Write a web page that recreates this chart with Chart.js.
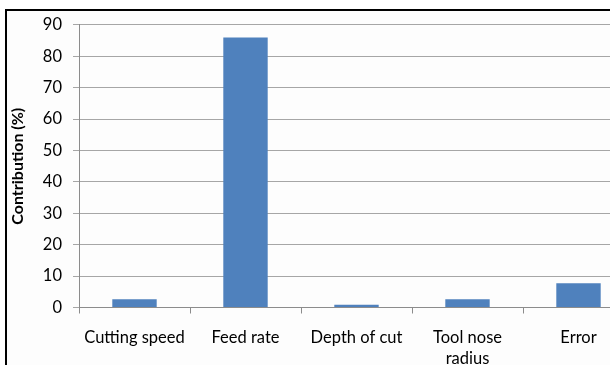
<!DOCTYPE html>
<html>
<head>
<meta charset="utf-8">
<script src="https://cdn.jsdelivr.net/npm/chart.js@4"></script>
<style>
  html, body { margin: 0; padding: 0; background: #fff; overflow: hidden; }
  #frame {
    position: absolute; left: 5px; top: 9px;
    width: 700px; height: 400px;
    border: 2px solid #000; background: #fdfdfd;
  }
  #wrap { position: absolute; left: 0; top: -7px; width: 627px; height: 360px; }
</style>
</head>
<body>
<div id="frame">
  <div id="wrap"><canvas id="contribChart"></canvas></div>
</div>
<script>
// カテゴリ（因子）
const categories = ['Cutting speed', 'Feed rate', 'Depth of cut', ['Tool nose', 'radius'], 'Error'];
// 寄与率 (%)
const contribution = [2.6, 86, 0.9, 2.6, 7.7];
// Y軸の範囲
const yMin = 0;
const yMax = 90;
const yStep = 10;

const fontFamily = 'Lato, "Open Sans", sans-serif';
const gridColor = '#a6a6a6';
const axisColor = '#8c8c8c';

function createChart() {
    const ctx = document.getElementById('contribChart').getContext('2d');
    return new Chart(ctx, {
        type: 'bar',
        data: {
            labels: categories,
            datasets: [{
                label: 'Contribution (%)',
                data: contribution,
                backgroundColor: '#4f81bd',
                borderWidth: 0,
                barPercentage: 0.4,
                categoryPercentage: 1.0
            }]
        },
        options: {
            responsive: true,
            maintainAspectRatio: false,
            animation: false,
            layout: { padding: { top: 4, left: 0, right: 0, bottom: 0 } },
            plugins: {
                legend: { display: false },
                tooltip: { enabled: false }
            },
            scales: {
                x: {
                    grid: {
                        offset: true,
                        drawOnChartArea: false,
                        drawTicks: true,
                        tickLength: 6,
                        color: axisColor
                    },
                    border: { color: axisColor },
                    ticks: {
                        color: '#000',
                        padding: 14,
                        maxRotation: 0,
                        autoSkip: false,
                        font: { family: fontFamily, size: 16.5, lineHeight: 1.25 }
                    },
                    afterFit: scale => { scale.height = 56.5; }
                },
                y: {
                    min: yMin,
                    max: yMax,
                    ticks: {
                        stepSize: yStep,
                        color: '#000',
                        padding: 11,
                        font: { family: fontFamily, size: 16.5 }
                    },
                    grid: {
                        color: gridColor,
                        tickLength: 6
                    },
                    border: { color: axisColor },
                    title: {
                        display: true,
                        text: 'Contribution (%)',
                        color: '#000',
                        padding: { top: 1, bottom: 0 },
                        font: { family: fontFamily, size: 16, weight: 'bold' }
                    },
                    afterFit: scale => { scale.width = 72; }
                }
            }
        }
    });
}

createChart();
</script>
</body>
</html>
